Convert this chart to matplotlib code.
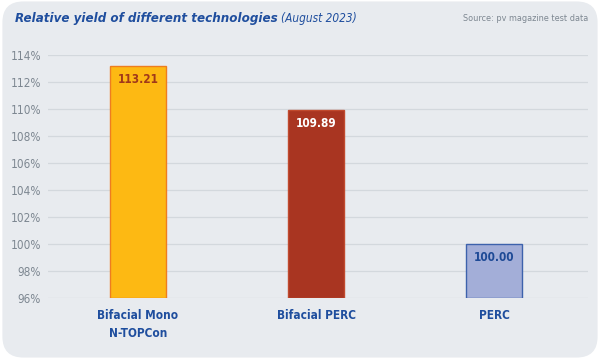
import matplotlib.pyplot as plt
from matplotlib import font_manager as fm
from matplotlib.patches import FancyBboxPatch

# data
categories = ['Bifacial Mono\nN-TOPCon', 'Bifacial PERC', 'PERC']
values = [113.21, 109.89, 100.00]
y_ticks = [96, 98, 100, 102, 104, 106, 108, 110, 112, 114]

fills = ['#FDB913', '#A93521', '#A3AED8']
edges = ['#EE7D1F', '#C14A2E', '#3D62AC']
label_colors = ['#A0381A', '#FFFFFF', '#1E4A96']

BLUE = '#1F4E9E'
GREY = '#7D8791'
BG = '#E8EBEF'

# pick a narrow face if there is one
names = {f.name for f in fm.fontManager.ttflist}
if 'Liberation Sans Narrow' in names:
    FONT = ['Liberation Sans Narrow', 'DejaVu Sans']
else:
    FONT = ['DejaVu Sans']
STRETCH = 'condensed'

fig = plt.figure(figsize=(6, 3.59), dpi=100)
fig.patch.set_facecolor('white')
panel = FancyBboxPatch((0.004, 0.004), 0.992, 0.992,
                       boxstyle='round,pad=0,rounding_size=0.035',
                       transform=fig.transFigure, facecolor=BG,
                       edgecolor='none', zorder=-5, mutation_aspect=600 / 359)
fig.patches.append(panel)

ax = fig.add_axes([0.08, 0.170, 0.90, 0.677])
ax.set_facecolor('none')
ax.set_zorder(2)

x = range(len(categories))
bars = ax.bar(x, [v - 96 for v in values], bottom=96, width=0.315,
              color=fills, edgecolor=edges, linewidth=1.0, zorder=3)

for b, v, c in zip(bars, values, label_colors):
    ax.text(b.get_x() + b.get_width() / 2, v - 1.0, f'{v:.2f}',
            ha='center', va='center', fontsize=8.5, fontweight='bold',
            color=c, family=FONT, stretch=STRETCH, zorder=4)

ax.set_ylim(96, 114)
ax.set_xlim(-0.506, 2.528)
ax.set_yticks(y_ticks)
ax.set_yticklabels([f'{t}%' for t in y_ticks], family=FONT, stretch=STRETCH,
                   fontsize=8.5, color=GREY)
ax.set_xticks(list(x))
ax.set_xticklabels(categories, family=FONT, stretch=STRETCH, fontsize=8.5,
                   fontweight='bold', color=BLUE, linespacing=1.45)
ax.tick_params(axis='y', length=0, pad=5)
ax.tick_params(axis='x', length=0, pad=8)
ax.grid(axis='y', color='#D3D8DD', linewidth=0.9, zorder=0)
for s in ax.spines.values():
    s.set_visible(False)

title = fig.text(0.025, 0.948, 'Relative yield of different technologies',
                 family=FONT, stretch=STRETCH, fontsize=9.5, fontweight='bold',
                 style='italic', color=BLUE, va='center')
fig.canvas.draw()
bb = title.get_window_extent()
fig.text(bb.x1 / fig.bbox.width + 0.005, 0.948, '(August 2023)', family=FONT,
         stretch=STRETCH, fontsize=8.5, style='italic', color=BLUE,
         va='center')
fig.text(0.98, 0.948, 'Source: pv magazine test data', family=FONT,
         stretch=STRETCH, fontsize=6.5, color=GREY, ha='right', va='center')

fig.savefig('out.png', dpi=100, facecolor=fig.get_facecolor())
